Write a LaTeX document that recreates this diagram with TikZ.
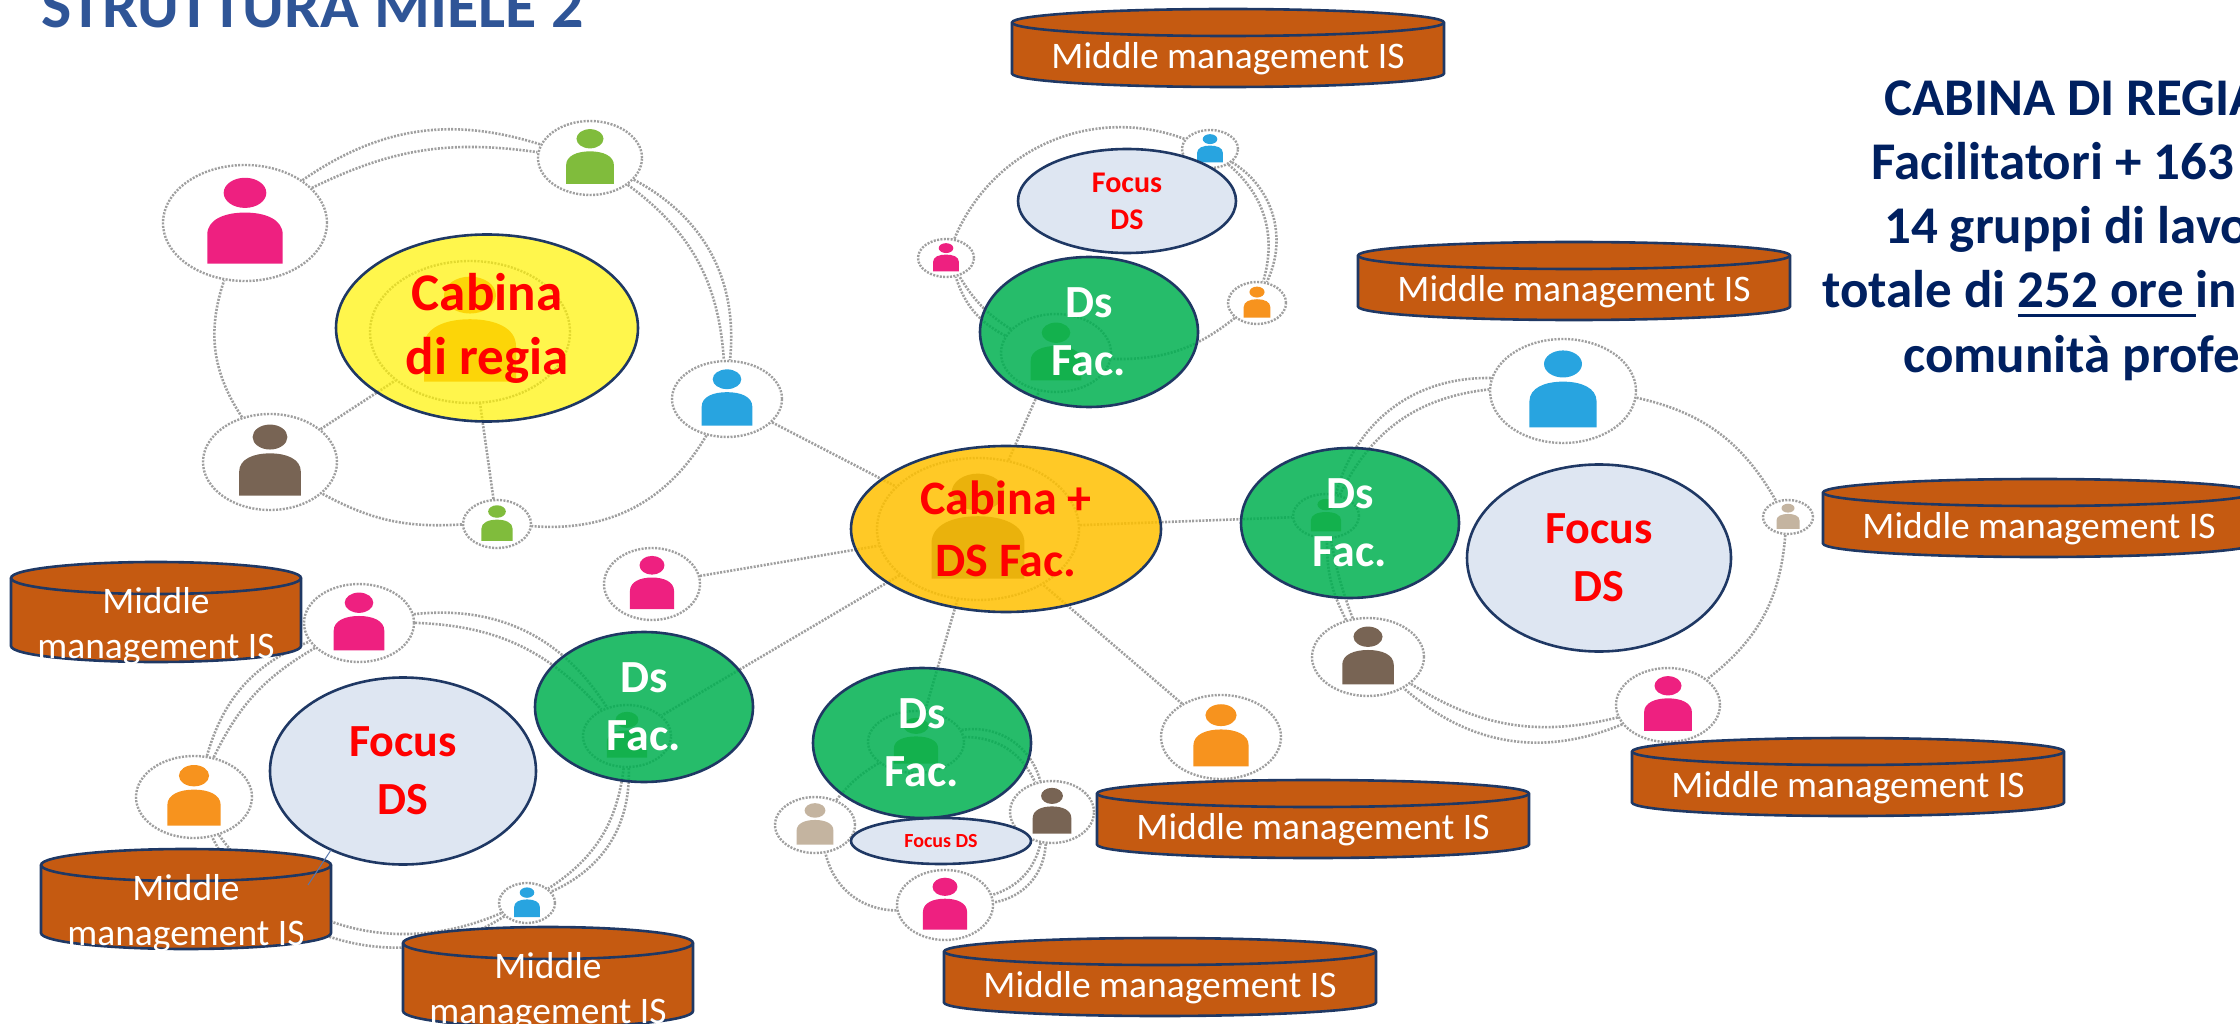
\documentclass[tikz,border=0pt]{standalone}
\usepackage{fontspec}
\setmainfont{Carlito}
\usetikzlibrary{shapes.geometric}
\definecolor{blu}{HTML}{1F3864}
\definecolor{mattone}{HTML}{C55A11}
\definecolor{titolo}{HTML}{2F5597}
\definecolor{scritta}{HTML}{002060}
\definecolor{rosa}{HTML}{EE2080}
\definecolor{verdino}{HTML}{80BC3C}
\definecolor{azzurro}{HTML}{28A4E0}
\definecolor{marrone}{HTML}{786454}
\definecolor{arancio}{HTML}{F7931E}
\definecolor{beige}{HTML}{C4B4A0}
\definecolor{verde}{HTML}{00B050}
\definecolor{oro}{HTML}{FFC000}
\definecolor{celeste}{HTML}{DEE6F2}
\tikzset{
  persona/.style={ellipse,draw=gray!75,fill=white,dash pattern=on 2pt off 1.4pt,line width=2.4pt,inner sep=0pt},
  link/.style={draw=gray!75,dash pattern=on 2pt off 1.4pt,line width=2.6pt},
  bolla/.style={ellipse,draw=blu,line width=2.6pt,inner sep=0pt,align=center,text opacity=1,font=\bfseries},
  dsfac/.style={bolla,fill=verde,fill opacity=.85,text=white,minimum width=218pt,minimum height=150pt,font=\fontsize{46}{58}\selectfont\bfseries},
  focus/.style={bolla,fill=celeste,text=red},
  barile/.style={draw=blu,line width=2.6pt,fill=mattone},
  testobar/.style={text=white,align=center,inner sep=0pt},
  righe/.style={anchor=base west,inner sep=0pt,text=scritta,font=\fontsize{53}{64}\selectfont\bfseries}
}
\newcommand{\omino}[6]{%
  \node[persona,minimum width=#4*2pt,minimum height=#5*2pt] (#1) at (#2,#3) {};
  \begin{scope}[shift={(#2,#3)},xscale=#4,yscale=#5]
    \fill[#6] (0,-.52) circle (.26);
    \fill[#6] (-.46,.7) -- (-.46,.2) .. controls (-.46,-.06) and (-.25,-.18) .. (0,-.18) .. controls (.25,-.18) and (.46,-.06) .. (.46,.2) -- (.46,.7) -- cycle;
  \end{scope}}
\newcommand{\botte}[5]{%
  \path[barile] (#1-#3/2,#2-#4/2+#5) -- (#1-#3/2,#2+#4/2-#5) arc[start angle=180,end angle=0,x radius=#3/2,y radius=#5] -- (#1+#3/2,#2-#4/2+#5) arc[start angle=0,end angle=-180,x radius=#3/2,y radius=#5] -- cycle;
  \draw[barile,fill=none] (#1-#3/2,#2-#4/2+#5) arc[start angle=180,end angle=0,x radius=#3/2,y radius=#5];}
\newcommand{\sotto}[1]{\setbox0\hbox{#1}\rlap{\raisebox{-10.5pt}{\rule{\wd0}{3pt}}}\box0}
\begin{document}
\begin{tikzpicture}[x=1pt,y=-1pt]
\useasboundingbox (0,0) rectangle (2240,1024);
\omino{pinkA}{245}{223}{82}{58}{rosa}
\omino{greenA}{590}{158}{52}{37}{verdino}
\omino{blueA}{727}{399}{55}{38}{azzurro}
\omino{brownA}{270}{462}{67}{48}{marrone}
\omino{smallA}{497}{524}{34}{24}{verdino}
\omino{hubA}{470}{332}{100}{71}{arancio}
\omino{blueT}{1210}{149}{28}{19}{azzurro}
\omino{pinkT}{946}{258}{28}{19}{rosa}
\omino{orangeT}{1257}{303}{29}{21}{arancio}
\omino{hubT}{1056}{353}{55}{39}{verdino}
\omino{blueR}{1563}{391}{73}{52}{azzurro}
\omino{beigeR}{1788}{517}{25}{17}{beige}
\omino{pinkR}{1668}{705}{52}{37}{rosa}
\omino{brownR}{1368}{657}{56}{39}{marrone}
\omino{hubR}{1326}{516}{33}{22}{verdino}
\omino{pinkL}{359}{623}{55}{39}{rosa}
\omino{orangeL}{194}{797}{58}{41}{arancio}
\omino{blueL}{527}{903}{28}{20}{azzurro}
\omino{hubL}{627}{736}{44}{31}{verdino}
\omino{beigeB}{815}{825}{40}{28}{beige}
\omino{brownB}{1052}{812}{42}{31}{marrone}
\omino{pinkB}{945}{905}{48}{35}{rosa}
\omino{hubB}{916}{742}{48}{31}{verdino}
\omino{freePink}{652}{584}{48}{36}{rosa}
\omino{freeOrange}{1221}{737}{60}{42}{arancio}
\omino{hubC}{978}{529}{101}{71}{marrone}
\foreach \a/\b/\ang in {pinkA/greenA/26,greenA/blueA/34,hubT/pinkT/22,blueT/orangeT/42,hubR/blueR/38,pinkR/brownR/32,brownR/hubR/14,pinkL/hubL/32,orangeL/pinkL/26,hubL/blueL/34,blueL/orangeL/48,hubB/brownB/42,brownB/pinkB/38}{
  \pgfmathsetmacro\angb{\ang-9}
  \draw[link] (\a) to[bend left=\ang] (\b);
  \draw[link] (\a) to[bend left=\angb] (\b);
}
\foreach \a/\b/\ang in {blueA/smallA/32,smallA/brownA/16,brownA/pinkA/26,pinkT/blueT/44,orangeT/hubT/20,blueR/beigeR/24,beigeR/pinkR/24,pinkB/beigeB/38,beigeB/hubB/10}{
  \draw[link] (\a) to[bend left=\ang] (\b);
}
\foreach \a/\b in {brownA/hubA,smallA/hubA,blueA/hubC,freePink/hubC,freeOrange/hubC,hubC/hubT,hubC/hubR,hubC/hubL,hubC/hubB}{
  \draw[link] (\a) -- (\b);
}
\node[bolla,fill=yellow,fill opacity=.7,text=red,minimum width=302pt,minimum height=187pt,font=\fontsize{53}{64}\selectfont\bfseries] (cabina) at (487,328) {Cabina\\di regia};
\node[bolla,fill=oro,fill opacity=.85,text=red,minimum width=310pt,minimum height=166pt,font=\fontsize{48}{62}\selectfont\bfseries] (cabinaDS) at (1006,529) {Cabina +\\DS Fac.};
\node[dsfac] (dsT) at (1089,332) {Ds\\Fac.};
\node[dsfac] (dsR) at (1350,523) {Ds\\Fac.};
\node[dsfac] (dsL) at (644,707) {Ds\\Fac.};
\node[dsfac] (dsB) at (922,743) {Ds\\Fac.};
\node[focus,minimum width=218pt,minimum height=104pt,font=\fontsize{30}{37}\selectfont\bfseries] (focusT) at (1127,201) {Focus\\DS};
\node[focus,minimum width=264pt,minimum height=187pt,font=\fontsize{46}{58}\selectfont\bfseries] (focusR) at (1599,558) {Focus\\DS};
\node[focus,minimum width=266pt,minimum height=187pt,font=\fontsize{46}{58}\selectfont\bfseries] (focusL) at (403,771) {Focus\\DS};
\node[focus,minimum width=180pt,minimum height=46pt,font=\fontsize{20}{24}\selectfont\bfseries] (focusB) at (941,841) {Focus DS};
\foreach \nome/\x/\y in {mmTop/1228/48,mmDx/1574/281,mmEst/2039/518,mmSud/1848/777,mmMid/1313/819,mmBot/1160/977}{
  \botte{\x}{\y}{432}{78}{13.5}
  \node[testobar,font=\fontsize{37.5}{44}\selectfont] (\nome) at (\x,\y+11) {Middle management IS};
}
\foreach \nome/\x/\y in {mmUno/156/612,mmDue/186/899,mmTre/548/977}{
  \botte{\x}{\y}{290}{100}{16}
  \node[testobar,font=\fontsize{37.5}{45}\selectfont] (\nome) at (\x,\y+14) {Middle\\management IS};
}
\coordinate (fineA) at (331,850);
\coordinate (fineB) at (308,885);
\draw[titolo!80!white,line width=1pt] (fineA) -- (fineB);
\node[anchor=base west,inner sep=0pt,text=titolo,font=\fontsize{64}{72}\selectfont\bfseries] (titoloA) at (41,28) {STRUTTURA MIELE 2};
\node[righe] (riga1) at (1884,116) {CABINA DI REGIA};
\node[righe] (riga2) at (1871,180) {Facilitatori + 163};
\node[righe] (riga3) at (1884,244) {14 gruppi di lavo};
\node[righe] (riga4) at (1822,307) {totale di \sotto{252 ore\ }in};
\node[righe] (riga5) at (1903,372) {comunità profe};
\end{tikzpicture}
\end{document}
